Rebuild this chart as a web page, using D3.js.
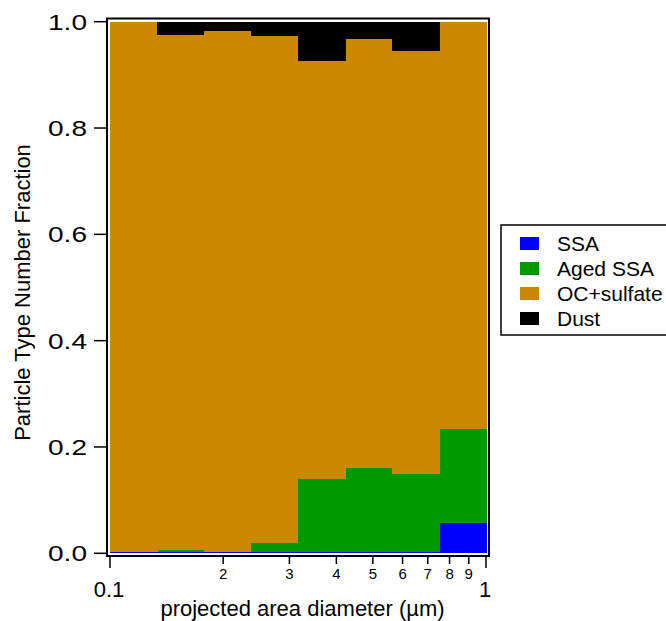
<!DOCTYPE html>
<html>
<head>
<meta charset="utf-8">
<script src="https://cdn.jsdelivr.net/npm/d3@7"></script>
<style>
  html, body { margin: 0; padding: 0; background: #fff; overflow: hidden; }
  svg { display: block; font-family: "Liberation Sans", Arial, sans-serif; }
</style>
</head>
<body>
<svg id="chart" width="666" height="621"></svg>
<script>
// Size-bin edges (projected area diameter, µm), log-spaced
const binEdges = [0.1, 0.1334, 0.1778, 0.2371, 0.3162, 0.4217, 0.5623, 0.7499, 1.0];

// Number fraction of each particle type per bin
const ssa       = [0.003, 0.003, 0.003, 0.003, 0.003, 0.003, 0.003, 0.057];
const agedSsa   = [0.000, 0.003, 0.000, 0.017, 0.137, 0.158, 0.147, 0.177];
const ocSulfate = [0.997, 0.969, 0.9795, 0.954, 0.786, 0.806, 0.794, 0.766];
const dust      = [0.000, 0.025, 0.0175, 0.026, 0.074, 0.033, 0.056, 0.000];

const seriesNames = ["SSA", "Aged SSA", "OC+sulfate", "Dust"];
const seriesColors = ["#0000ff", "#009900", "#cc8800", "#000000"];

const yTicks = [0, 0.2, 0.4, 0.6, 0.8, 1.0];
const xMajorTicks = [0.1, 1];
const xMinorTicks = [0.2, 0.3, 0.4, 0.5, 0.6, 0.7, 0.8, 0.9];

const svg = d3.select("#chart");

const plot = { left: 110, right: 486, top: 21.7, bottom: 553.3 };
const x = d3.scaleLog().domain([0.1, 1]).range([plot.left, plot.right]);
const y = d3.scaleLinear().domain([0, 1]).range([plot.bottom, plot.top]);

const rows = binEdges.slice(0, -1).map((lo, i) => ({
  lo, hi: binEdges[i + 1],
  "SSA": ssa[i], "Aged SSA": agedSsa[i], "OC+sulfate": ocSulfate[i], "Dust": dust[i]
}));

const stacked = d3.stack().keys(seriesNames)(rows);

stacked.forEach((layer, k) => {
  svg.append("g")
    .attr("fill", seriesColors[k])
    .attr("shape-rendering", "crispEdges")
    .selectAll("rect")
    .data(layer)
    .join("rect")
    .attr("x", d => x(d.data.lo))
    .attr("width", d => x(d.data.hi) - x(d.data.lo) + 0.5)
    .attr("y", d => y(d[1]))
    .attr("height", d => Math.max(0, y(d[0]) - y(d[1])));
});

// Frame around the plot area
const frame = { left: 107, right: 489, top: 18.5, bottom: 556 };
svg.append("rect")
  .attr("x", frame.left).attr("y", frame.top)
  .attr("width", frame.right - frame.left)
  .attr("height", frame.bottom - frame.top)
  .attr("fill", "none").attr("stroke", "#000").attr("stroke-width", 2);

// Y axis ticks and labels
const yAxisG = svg.append("g");
yTicks.forEach(t => {
  yAxisG.append("line")
    .attr("x1", frame.left - 13).attr("x2", frame.left)
    .attr("y1", y(t)).attr("y2", y(t))
    .attr("stroke", "#000").attr("stroke-width", 1.5);
  yAxisG.append("text")
    .attr("x", 87).attr("y", y(t))
    .attr("dy", "0.36em")
    .attr("text-anchor", "end")
    .attr("font-size", 22)
    .attr("textLength", 39)
    .attr("lengthAdjust", "spacingAndGlyphs")
    .text(d3.format(".1f")(t));
});

// X axis ticks and labels (log scale)
const xAxisG = svg.append("g");
xMajorTicks.forEach(t => {
  xAxisG.append("line")
    .attr("x1", x(t)).attr("x2", x(t))
    .attr("y1", frame.bottom).attr("y2", frame.bottom + 12)
    .attr("stroke", "#000").attr("stroke-width", 1.5);
  xAxisG.append("text")
    .attr("x", x(t) - 1).attr("y", 597)
    .attr("text-anchor", "middle")
    .attr("font-size", 22)
    .text(d3.format("~g")(t));
});
xMinorTicks.forEach(t => {
  xAxisG.append("line")
    .attr("x1", x(t)).attr("x2", x(t))
    .attr("y1", frame.bottom).attr("y2", frame.bottom + 8)
    .attr("stroke", "#000").attr("stroke-width", 1.5);
  xAxisG.append("text")
    .attr("x", x(t)).attr("y", 579)
    .attr("text-anchor", "middle")
    .attr("font-size", 15)
    .text(Math.round(t * 10));
});

// Axis titles
svg.append("text")
  .attr("x", 302.5).attr("y", 616)
  .attr("text-anchor", "middle")
  .attr("font-size", 22)
  .text("projected area diameter (µm)");

svg.append("text")
  .attr("transform", "translate(30, 292.5) rotate(-90)")
  .attr("text-anchor", "middle")
  .attr("font-size", 22)
  .text("Particle Type Number Fraction");

// Legend
const legend = svg.append("g");
legend.append("rect")
  .attr("x", 501).attr("y", 225)
  .attr("width", 180).attr("height", 110)
  .attr("fill", "#fff").attr("stroke", "#000").attr("stroke-width", 1.5);
seriesNames.forEach((name, i) => {
  const cy = 243.5 + i * 25;
  legend.append("rect")
    .attr("x", 520).attr("y", cy - 6.5)
    .attr("width", 19).attr("height", 13)
    .attr("fill", seriesColors[i]);
  legend.append("text")
    .attr("x", 557).attr("y", cy)
    .attr("dy", "0.36em")
    .attr("font-size", 21)
    .text(name);
});
</script>
</body>
</html>
